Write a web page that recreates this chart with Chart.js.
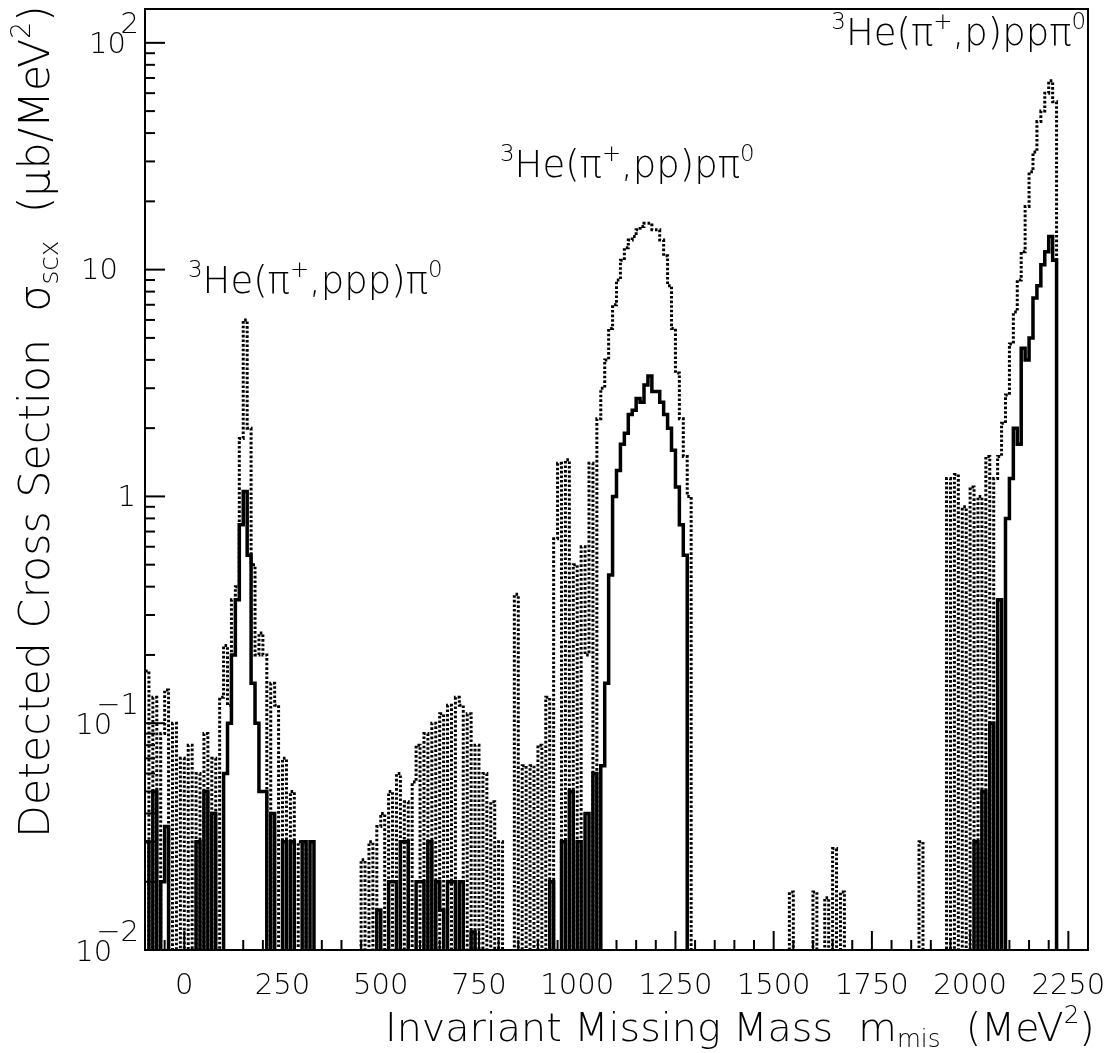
<!DOCTYPE html>
<html><head><meta charset="utf-8">
<script src="https://cdn.jsdelivr.net/npm/chart.js@4.4.1/dist/chart.umd.min.js"></script>
<style>html,body{margin:0;padding:0;background:#fff;} canvas{display:block;}</style>
</head><body>
<canvas id="c" width="1110" height="1053"></canvas>
<script>
// ---- categories: histogram bins (left edges start at binStart, width binWidth, MeV^2)
const binStart = -100;
const binWidth = 10;
const xMin = -100, xMax = 2300;
const yMin = 0.01, yMax = 141;

// ---- tick labels
const xTickValues = [0, 250, 500, 750, 1000, 1250, 1500, 1750, 2000, 2250];
const xTickLabels = ['0', '250', '500', '750', '1000', '1250', '1500', '1750', '2000', '2250'];
const yTickValues = [0.01, 0.1, 1, 10, 100];
const yTickBase = ['10', '10', '1', '10', '10'];
const yTickExp = ['\u22122', '\u22121', '', '', '2'];

// ---- series: dotted histogram (upper), 10 values per 100 MeV^2, 0 = empty bin
const dottedValues = [
  0.17, 0, 0.13, 0, 0.09, 0.14, 0, 0.1, 0, 0.07,            // -100
  0, 0.08, 0, 0.06, 0, 0.09, 0, 0.07, 0, 0.13,              // 0
  0.22, 0.12, 0.35, 0.4, 1.8, 6.0, 2.0, 0.5, 0.2, 0.25,     // 100
  0.2, 0, 0.15, 0.12, 0, 0.07, 0, 0.05, 0, 0.03,            // 200
  0.03, 0, 0, 0, 0, 0, 0, 0, 0, 0,                          // 300
  0, 0, 0, 0, 0, 0.025, 0, 0.03, 0, 0.035,                  // 400
  0.04, 0, 0.05, 0, 0.06, 0, 0.045, 0, 0.055, 0.08,         // 500
  0, 0.09, 0, 0.1, 0, 0.11, 0, 0.12, 0, 0.13,               // 600
  0.12, 0, 0.11, 0, 0.08, 0, 0.06, 0, 0.045, 0,             // 700
  0.03, 0, 0, 0, 0.37, 0, 0.065, 0, 0.065, 0,               // 800
  0.08, 0, 0.13, 0, 0.65, 1.4, 0, 1.45, 0, 0.5,             // 900
  0, 0.6, 0.2, 1.4, 0, 2.2, 3.0, 4.0, 5.5, 7.0,             // 1000
  9, 11, 12.5, 13.5, 14, 15, 15.5, 16, 16, 15,              // 1100
  15, 13.5, 11.5, 8.5, 5.5, 3.5, 2.2, 1.5, 1.0, 0,          // 1200
  0, 0, 0, 0, 0, 0, 0, 0, 0, 0,                             // 1300
  0, 0, 0, 0, 0, 0, 0, 0, 0, 0,                             // 1400
  0, 0, 0, 0, 0.018, 0, 0, 0, 0, 0,                         // 1500
  0.018, 0, 0, 0.017, 0, 0.028, 0, 0.018, 0, 0,             // 1600
  0, 0, 0, 0, 0, 0, 0, 0, 0, 0,                             // 1700
  0, 0, 0, 0, 0, 0, 0, 0.03, 0, 0,                          // 1800
  0, 0, 0, 0, 1.2, 0, 1.25, 0, 0.9, 0,                      // 1900
  1.1, 0, 1.0, 0, 1.5, 0, 1.2, 1.5, 2.1, 2.8,               // 2000
  4.7, 6.5, 9, 12, 19, 27, 33, 45, 50, 60,                  // 2100
  68, 55, 0, 0, 0, 0, 0, 0, 0, 0                            // 2200
];

// ---- series: solid histogram (lower)
const solidValues = [
  0.03, 0, 0.05, 0, 0.02, 0.035, 0, 0, 0, 0,                // -100
  0, 0, 0, 0.03, 0, 0.05, 0, 0.04, 0, 0,                    // 0
  0.06, 0.1, 0.2, 0.35, 0.75, 1.05, 0.55, 0.15, 0.1, 0.05,  // 100
  0.05, 0, 0.04, 0, 0, 0.03, 0, 0.03, 0, 0,                 // 200
  0.03, 0, 0.03, 0, 0, 0, 0, 0, 0, 0,                       // 300
  0, 0, 0, 0, 0, 0, 0, 0, 0, 0.015,                         // 400
  0, 0, 0.02, 0.02, 0, 0.03, 0.03, 0, 0, 0.02,              // 500
  0.02, 0, 0.03, 0, 0.02, 0.015, 0, 0.02, 0.02, 0,          // 600
  0.02, 0, 0, 0.012, 0, 0, 0, 0, 0, 0,                      // 700
  0, 0, 0, 0, 0, 0, 0, 0, 0, 0,                             // 800
  0, 0, 0, 0.02, 0, 0, 0.03, 0, 0.05, 0,                    // 900
  0.03, 0, 0.04, 0, 0.06, 0, 0.065, 0.15, 0.45, 1.0,        // 1000
  1.3, 1.7, 1.9, 2.3, 2.4, 2.7, 2.6, 3.1, 3.4, 2.9,         // 1100
  2.9, 2.6, 2.3, 2.0, 1.6, 1.1, 0.75, 0.55, 0, 0,           // 1200
  0, 0, 0, 0, 0, 0, 0, 0, 0, 0,                             // 1300
  0, 0, 0, 0, 0, 0, 0, 0, 0, 0,                             // 1400
  0, 0, 0, 0, 0, 0, 0, 0, 0, 0,                             // 1500
  0, 0, 0, 0, 0, 0, 0, 0, 0, 0,                             // 1600
  0, 0, 0, 0, 0, 0, 0, 0, 0, 0,                             // 1700
  0, 0, 0, 0, 0, 0, 0, 0, 0, 0,                             // 1800
  0, 0, 0, 0, 0, 0, 0, 0, 0, 0,                             // 1900
  0, 0.03, 0, 0.05, 0, 0.1, 0, 0.35, 0, 0.8,                // 2000
  1.2, 2.0, 1.7, 4.5, 4.0, 5, 7.5, 8.5, 10.5, 12,           // 2100
  14, 11, 0, 0, 0, 0, 0, 0, 0, 0                            // 2200
];

// ---- text
const yTitleParts = [{t:'Detected Cross Section  \u03C3'},{t:'scx',s:0.62,dy:0.2},{t:'  (\u03BCb/MeV'},{t:'2',s:0.62,dy:-0.45},{t:')'}];
const xTitleParts = [{t:'Invariant Missing Mass  m'},{t:'mis',s:0.62,dy:0.16},{t:'  (MeV'},{t:'2',s:0.62,dy:-0.45},{t:')'}];
const annotations = [
  {parts:[{t:'3',s:0.62,dy:-0.42},{t:'He(\u03C0'},{t:'+',s:0.62,dy:-0.42},{t:',ppp)\u03C0'},{t:'0',s:0.62,dy:-0.42}], x:188, align:'left', base:293, size:37},
  {parts:[{t:'3',s:0.62,dy:-0.42},{t:'He(\u03C0'},{t:'+',s:0.62,dy:-0.42},{t:',pp)p\u03C0'},{t:'0',s:0.62,dy:-0.42}], x:500, align:'left', base:177, size:37},
  {parts:[{t:'3',s:0.62,dy:-0.42},{t:'He(\u03C0'},{t:'+',s:0.62,dy:-0.42},{t:',p)pp\u03C0'},{t:'0',s:0.62,dy:-0.42}], x:1086, align:'right', base:45, size:37}
];

const FLOOR = 1e-4;
function toPoints(vals){
  const pts = vals.map((v,i)=>({x: binStart + i*binWidth, y: v > 0 ? v : FLOOR}));
  pts.push({x: binStart + vals.length*binWidth, y: FLOOR});
  return pts;
}

const FAMILY = '"DejaVu Sans", "Open Sans", sans-serif';
function fnt(size){ return '200 ' + size.toFixed(2) + 'px ' + FAMILY; }
function richWidth(ctx, parts, size){
  let w = 0;
  for (const p of parts){ ctx.font = fnt(size*(p.s||1)); w += ctx.measureText(p.t).width; }
  return w;
}
function drawRich(ctx, parts, x, y, size){
  ctx.textAlign = 'left'; ctx.textBaseline = 'alphabetic';
  for (const p of parts){
    ctx.font = fnt(size*(p.s||1));
    ctx.fillText(p.t, x, y + (p.dy||0)*size);
    x += ctx.measureText(p.t).width;
  }
}
function drawRichFit(ctx, parts, x0, x1, y){
  const size = 40 * (x1-x0) / richWidth(ctx, parts, 40);
  drawRich(ctx, parts, x0, y, size);
}

const decor = {
  id: 'decor',
  afterDraw(chart){
    const ctx = chart.ctx, a = chart.chartArea;
    const xs = chart.scales.x, ys = chart.scales.y;
    ctx.save();
    ctx.strokeStyle = '#000'; ctx.fillStyle = '#000';
    // frame
    ctx.lineWidth = 2;
    ctx.strokeRect(a.left, a.top, a.right-a.left, a.bottom-a.top);
    // x ticks (inside, bottom)
    for (let v = -50; v <= xMax; v += 50){
      const px = xs.getPixelForValue(v);
      if (px <= a.left+1 || px >= a.right-1) continue;
      const len = (v % 250 === 0) ? 19 : 10;
      ctx.beginPath(); ctx.moveTo(px, a.bottom); ctx.lineTo(px, a.bottom-len); ctx.stroke();
    }
    // y ticks (inside, left)
    for (let d = -2; d <= 2; d++){
      for (let m = 1; m <= 9; m++){
        const v = m*Math.pow(10,d);
        if (v < yMin || v > yMax) continue;
        const py = ys.getPixelForValue(v);
        const len = (m===1) ? 20 : 10;
        ctx.beginPath(); ctx.moveTo(a.left, py); ctx.lineTo(a.left+len, py); ctx.stroke();
      }
    }
    // x tick labels
    ctx.font = fnt(29); ctx.textAlign = 'center'; ctx.textBaseline = 'middle';
    xTickValues.forEach((v,i)=>{ ctx.fillText(xTickLabels[i], xs.getPixelForValue(v), 986); });
    // y tick labels
    yTickValues.forEach((v,i)=>{
      const py = ys.getPixelForValue(v);
      ctx.font = fnt(29); ctx.textBaseline = 'middle';
      const exp = yTickExp[i];
      ctx.textAlign = 'right';
      if (exp){
        ctx.fillText(exp, 139, py - 17);
        const ew = ctx.measureText(exp).width;
        ctx.fillText(yTickBase[i], exp.length > 1 ? 139 - ew + 16 : 126, py + 3);
      } else {
        ctx.fillText(yTickBase[i], (yTickBase[i]==='1') ? 136 : 118, py + 2);
      }
    });
    // axis titles
    drawRichFit(ctx, xTitleParts, 385, 1095, 1041);
    ctx.save();
    ctx.translate(49, 838); ctx.rotate(-Math.PI/2);
    drawRichFit(ctx, yTitleParts, 0, 833, 0);
    ctx.restore();
    // annotations
    annotations.forEach(an => {
      const w = richWidth(ctx, an.parts, an.size);
      const x0 = an.align === 'right' ? an.x - w : an.x;
      drawRich(ctx, an.parts, x0, an.base, an.size);
    });
    ctx.restore();
  }
};

new Chart(document.getElementById('c'), {
  type: 'line',
  data: {
    datasets: [
      { label: 'solid', data: toPoints(solidValues), stepped: true, borderColor: '#000', borderWidth: 3.5,
        pointRadius: 0, fill: false, clip: 0, tension: 0 },
      { label: 'dotted', data: toPoints(dottedValues), stepped: true, borderColor: '#000', borderWidth: 3,
        borderDash: [2.6, 2], pointRadius: 0, fill: false, clip: 0, tension: 0 }
    ]
  },
  options: {
    responsive: false, animation: false, devicePixelRatio: 1,
    parsing: false, normalized: true,
    layout: { padding: { top: 9, right: 22, left: 0, bottom: 0 } },
    plugins: { legend: { display: false }, tooltip: { enabled: false }, title: { display: false } },
    scales: {
      x: { type: 'linear', min: xMin, max: xMax, grid: { display: false }, border: { display: false },
           ticks: { display: false }, afterFit(s){ s.height = 103; } },
      y: { type: 'logarithmic', min: yMin, max: yMax, grid: { display: false }, border: { display: false },
           ticks: { display: false }, afterFit(s){ s.width = 145; } }
    }
  },
  plugins: [decor]
});
</script>
</body></html>
